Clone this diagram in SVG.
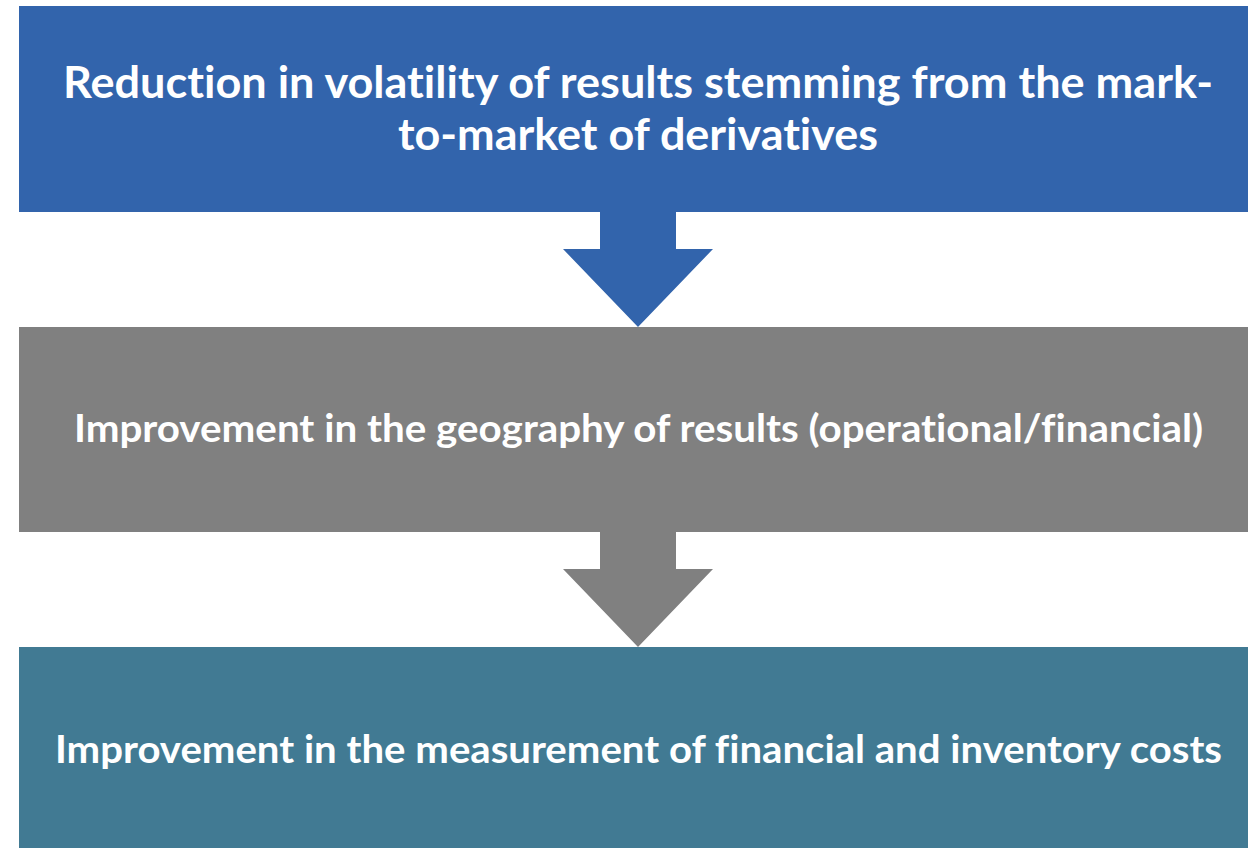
<svg xmlns="http://www.w3.org/2000/svg" width="1248" height="848" viewBox="0 0 1248 848">
<style>
.t{font-family:Lato,"Open Sans","Liberation Sans",sans-serif;font-weight:bold;fill:#ffffff;text-anchor:middle;font-variant-ligatures:none}
.big{font-size:43px}
.mid{font-size:37.5px}
</style>
<rect width="1248" height="848" fill="#ffffff"/>
<g id="connectors">
<polygon id="arrow1" points="600,211 676,211 676,249 713,249 638,327 563,249 600,249" fill="#3264AC"/>
<polygon id="arrow2" points="600,532 676,532 676,569 713,569 638,647 563,569 600,569" fill="#808080"/>
</g>
<g id="node1">
<rect x="19" y="6" width="1229" height="206" fill="#3264AC"/>
<text class="t big" x="638" y="98" textLength="1150" lengthAdjust="spacingAndGlyphs">Reduction in volatility of results stemming from the mark-</text>
<text class="t big" x="638" y="150" textLength="480" lengthAdjust="spacingAndGlyphs">to-market of derivatives</text>
</g>
<g id="node2">
<rect x="19" y="327" width="1229" height="205" fill="#808080"/>
<text class="t mid" x="638.5" y="442" textLength="1129" lengthAdjust="spacingAndGlyphs">Improvement in the geography of results (operational/financial)</text>
</g>
<g id="node3">
<rect x="19" y="647" width="1229" height="201" fill="#417A93"/>
<text class="t mid" x="638.5" y="763" textLength="1167" lengthAdjust="spacingAndGlyphs">Improvement in the measurement of financial and inventory costs</text>
</g>
</svg>
